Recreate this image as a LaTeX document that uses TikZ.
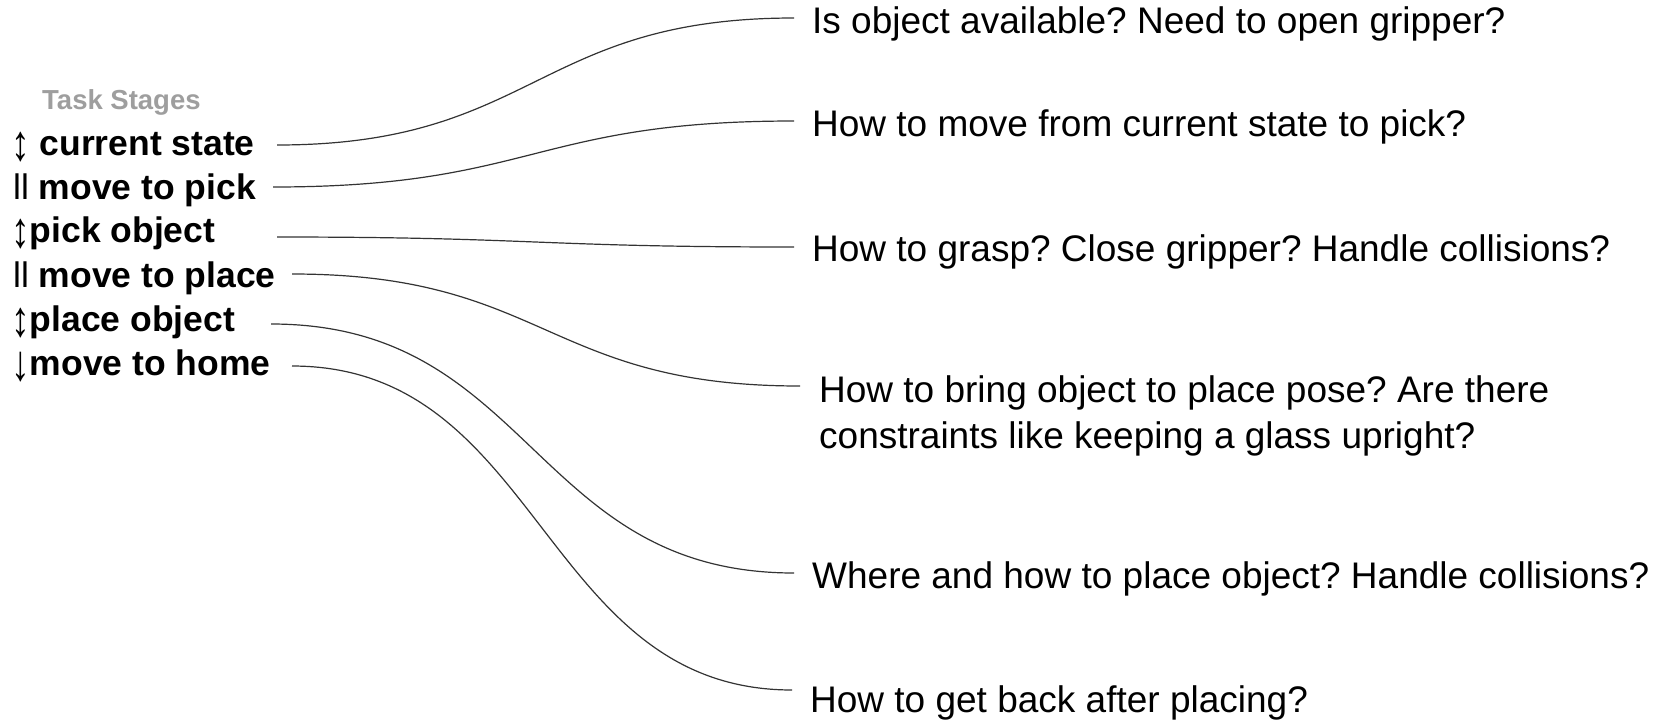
\documentclass[tikz,border=0pt]{standalone}
\usepackage{fontspec}
\usepackage{graphicx}
\setmainfont{Liberation Sans}
\definecolor{headgray}{HTML}{9E9E9E}
\definecolor{linkgray}{HTML}{333333}
\frenchspacing
\newcommand{\updn}{\smash{\raisebox{-5pt}{\scalebox{1.05}[1.42]{\mdseries ↕}}}}
\newcommand{\dnarr}{\smash{\raisebox{-5pt}{\scalebox{1.05}[1.42]{\mdseries ↓}}}}
\newcommand{\pausebar}{{\mdseries ll}}
\begin{document}
\begin{tikzpicture}[x=1pt,y=-1pt,
  head/.style={anchor=mid west,inner sep=0pt,text=headgray,font=\fontsize{27.5}{30}\selectfont\bfseries},
  stage/.style={anchor=mid west,inner sep=0pt,font=\fontsize{35.5}{40}\selectfont\bfseries},
  question/.style={anchor=mid west,inner sep=0pt,font=\fontsize{37}{45.5}\selectfont,align=left},
  link/.style={line width=1.2pt,draw=linkgray}]
\useasboundingbox (0,0) rectangle (1665,721);

\node[head] (hd) at (42,107) {Task Stages};
\node[stage] (l1) at (11,153) {\updn\ current state};
\node[stage] (l2) at (13,197) {\pausebar\ move to pick};
\node[stage] (l3) at (11,240) {\updn pick object};
\node[stage] (l4) at (13,285) {\pausebar\ move to place};
\node[stage] (l5) at (11,329) {\updn place object};
\node[stage] (l6) at (11,373) {\dnarr move to home};

\node[question] (q1) at (812,31) {Is object available? Need to open gripper?};
\node[question] (q2) at (812,134) {How to move from current state to pick?};
\node[question] (q3) at (812,259) {How to grasp? Close gripper? Handle collisions?};
\node[question,anchor=west] (q4) at (819,416) {How to bring object to place pose? Are there\\constraints like keeping a glass upright?};
\node[question] (q5) at (812,586) {Where and how to place object? Handle collisions?};
\node[question] (q6) at (810,710) {How to get back after placing?};

\coordinate (s1) at (277,145);
\coordinate (s2) at (273,187);
\coordinate (s3) at (277,237);
\coordinate (s4) at (292,274);
\coordinate (s5) at (271,324);
\coordinate (s6) at (292,366);
\coordinate (e1) at (794,18);
\coordinate (e2) at (794,121);
\coordinate (e3) at (794,247);
\coordinate (e4) at (800,386);
\coordinate (e5) at (794,573);
\coordinate (e6) at (792,690);

\draw[link] (s1) .. controls +(258,0) and +(-258,0) .. (e1);
\draw[link] (s2) .. controls +(260,0) and +(-260,0) .. (e2);
\draw[link] (s3) .. controls +(258,0) and +(-258,0) .. (e3);
\draw[link] (s4) .. controls +(254,0) and +(-254,0) .. (e4);
\draw[link] (s5) .. controls +(261,0) and +(-261,0) .. (e5);
\draw[link] (s6) .. controls +(250,0) and +(-250,0) .. (e6);
\end{tikzpicture}
\end{document}
